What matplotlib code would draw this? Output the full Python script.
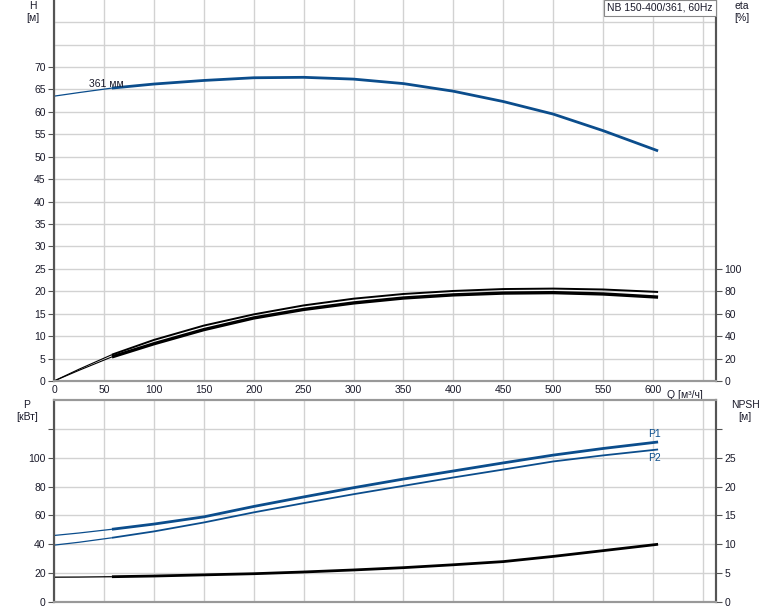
import numpy as np
import matplotlib.pyplot as plt

plt.rcParams['font.family'] = ['Liberation Sans', 'DejaVu Sans']

# Q, m3/h
q = [0, 25, 58, 100, 150, 200, 250, 300, 350, 400, 450, 500, 550, 605]

# head, m
h = [63.5, 64.3, 65.3, 66.2, 67.0, 67.6, 67.7, 67.3, 66.3, 64.6, 62.3, 59.5, 55.8, 51.3]

# efficiency, % (two curves)
eta_1 = [0, 10.5, 23.5, 36.6, 49.4, 59.4, 67.4, 73.4, 77.6, 80.3, 82.0, 82.4, 81.6, 79.4]
eta_2 = [0, 9.5, 21.5, 33.2, 45.8, 56.2, 63.8, 69.6, 74.0, 76.8, 78.4, 78.8, 77.6, 74.8]

# power, kW
p1 = [46.1, 47.8, 50.4, 54.0, 59.0, 66.2, 72.8, 79.2, 85.2, 90.8, 96.4, 101.8, 106.4, 110.9]
p2 = [39.4, 41.4, 44.5, 48.9, 55.1, 62.1, 68.5, 74.7, 80.5, 86.3, 91.8, 97.4, 101.6, 105.7]

# NPSH, m
npsh = [4.3, 4.32, 4.38, 4.5, 4.7, 4.9, 5.2, 5.55, 5.95, 6.45, 7.0, 7.9, 8.9, 10.0]

blue = '#0b4d8c'
txt = '#1a1a2a'
grid_c = '#d2d2d2'
fs = 7.5

fig = plt.figure(figsize=(7.74, 6.11), dpi=100)
ax = fig.add_axes([54 / 774, 1 - 381 / 611, 662 / 774, 381 / 611])
ax2 = fig.add_axes([54 / 774, 1 - 602 / 611, 662 / 774, 202 / 611])

xmax = 663


def thin_thick(a, x, y, color, lw_thin, lw_thick, scale=1.0):
    y = np.array(y) * scale
    a.plot(x[:3], y[:3], color=color, lw=lw_thin, solid_capstyle='butt', zorder=3)
    a.plot(x[2:], y[2:], color=color, lw=lw_thick, solid_capstyle='butt',
           solid_joinstyle='round', zorder=3)


# ---- top panel: H and eta
thin_thick(ax, q, h, blue, 0.9, 2.0)
thin_thick(ax, q, eta_1, 'black', 0.8, 1.4, 0.25)
thin_thick(ax, q, eta_2, 'black', 0.8, 2.4, 0.25)
ax.text(35, 65.2, '361 мм', fontsize=fs, color=txt, va='bottom', ha='left')

ax.set_xlim(0, xmax)
ax.set_ylim(0, 381 / (314 / 70))
ax.set_yticks(np.arange(0, 71, 5))
for v in (75, 80):
    ax.axhline(v, color=grid_c, lw=1, zorder=0)
ax.set_xticks(np.arange(0, 651, 50))
ax.set_xticklabels([str(v) if v <= 600 else '' for v in range(0, 651, 50)])
ax.tick_params(axis='x', length=0, pad=3, labelsize=fs, labelcolor=txt)
ax.tick_params(axis='y', length=4, width=0.8, color='#555555', pad=2,
               labelsize=fs, labelcolor=txt)
ax.grid(True, color=grid_c, lw=1)
ax.set_axisbelow(True)
ax.text(xmax - 49, -3.2, 'Q [м³/ч]', fontsize=fs, color=txt, ha='left', va='center')

axr = ax.twinx()
axr.set_ylim(0, ax.get_ylim()[1] * 4)
axr.set_yticks(np.arange(0, 101, 20))
axr.tick_params(axis='y', length=4, width=0.8, color='#555555', pad=2,
                labelsize=fs, labelcolor=txt)

for a in (ax, axr):
    a.spines['top'].set_visible(False)
    a.spines['left'].set_color('#555555')
    a.spines['right'].set_color('#555555')
    a.spines['bottom'].set_color('#999999')
    a.spines['left'].set_linewidth(1.5)
    a.spines['right'].set_linewidth(1.5)
    a.spines['bottom'].set_linewidth(1.5)

fig.text(33 / 774, 1 - 6 / 611, 'H', fontsize=fs, color=txt, ha='center', va='center')
fig.text(33 / 774, 1 - 18 / 611, '[м]', fontsize=fs, color=txt, ha='center', va='center')
fig.text(742 / 774, 1 - 6 / 611, 'eta', fontsize=fs, color=txt, ha='center', va='center')
fig.text(742 / 774, 1 - 18 / 611, '[%]', fontsize=fs, color=txt, ha='center', va='center')
fig.text(660 / 774, 1 - 8 / 611, 'NB 150-400/361, 60Hz', fontsize=fs, color=txt,
         ha='center', va='center',
         bbox=dict(boxstyle='square,pad=0.3', fc='white', ec='#888888', lw=0.8))

# ---- bottom panel: P and NPSH
thin_thick(ax2, q, p1, blue, 0.9, 2.0)
thin_thick(ax2, q, p2, blue, 0.9, 1.3)
thin_thick(ax2, q, npsh, 'black', 0.9, 2.0, 4.0)
ax2.text(595, p1[-1] + 2, 'P1', fontsize=fs, color=blue, ha='left', va='bottom')
ax2.text(595, p2[-1] - 2.5, 'P2', fontsize=fs, color=blue, ha='left', va='top')

ax2.set_xlim(0, xmax)
ax2.set_ylim(0, 202 / (144.3 / 100))
ax2.set_yticks(np.arange(0, 121, 20))
ax2.set_yticklabels([str(v) if v <= 100 else '' for v in range(0, 121, 20)])
ax2.set_xticks(np.arange(0, 651, 50))
ax2.set_xticklabels([])
ax2.tick_params(axis='x', length=0)
ax2.tick_params(axis='y', length=4, width=0.8, color='#555555', pad=2,
                labelsize=fs, labelcolor=txt)
ax2.grid(True, color=grid_c, lw=1)
ax2.set_axisbelow(True)

ax2r = ax2.twinx()
ax2r.set_ylim(0, ax2.get_ylim()[1] / 4)
ax2r.set_yticks(np.arange(0, 31, 5))
ax2r.set_yticklabels([str(v) if v <= 25 else '' for v in range(0, 31, 5)])
ax2r.tick_params(axis='y', length=4, width=0.8, color='#555555', pad=2,
                 labelsize=fs, labelcolor=txt)

for a in (ax2, ax2r):
    a.spines['top'].set_color('#999999')
    a.spines['left'].set_color('#555555')
    a.spines['right'].set_color('#555555')
    a.spines['bottom'].set_color('#999999')
    for s in a.spines.values():
        s.set_linewidth(1.5)

fig.text(27 / 774, 1 - 405 / 611, 'P', fontsize=fs, color=txt, ha='center', va='center')
fig.text(27 / 774, 1 - 417 / 611, '[кВт]', fontsize=fs, color=txt, ha='center', va='center')
fig.text(745 / 774, 1 - 405 / 611, 'NPSH', fontsize=fs, color=txt, ha='center', va='center')
fig.text(745 / 774, 1 - 417 / 611, '[м]', fontsize=fs, color=txt, ha='center', va='center')

fig.savefig('out.png', dpi=100)
